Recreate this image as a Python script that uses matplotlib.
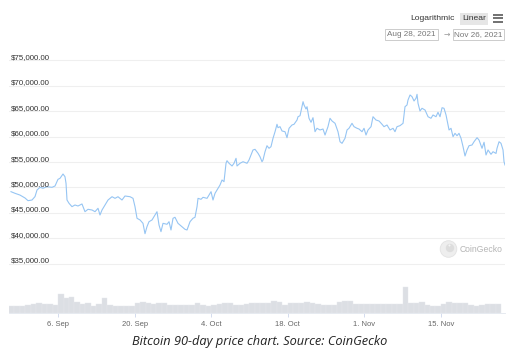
import numpy as np
import matplotlib
matplotlib.use("Agg")
from matplotlib import pyplot as plt
from matplotlib.patches import Rectangle, Circle

# price readings: days since Aug 28 2021, USD
price_days = [
    0.40, 1.13, 2.05, 2.96, 3.51, 4.24, 4.79, 5.16, 5.70, 6.25, 6.98, 7.90, 8.45, 8.99,
    9.36, 9.91, 10.27, 10.46, 10.64, 11.01, 11.55, 12.10, 12.65, 13.38, 13.93, 14.48,
    15.22, 15.76, 16.31, 16.67, 17.04, 17.59, 18.14, 18.87, 19.42, 19.96, 20.69, 21.24,
    22.16, 22.71, 23.07, 23.44, 23.99, 24.53, 24.90, 25.26, 25.63, 26.18, 26.73, 27.09,
    27.46, 27.82, 28.19, 28.92, 29.29, 29.65, 30.02, 30.38, 30.93, 31.66, 32.21, 32.58,
    33.13, 33.67, 34.04, 34.41, 34.59, 35.14, 35.50, 36.24, 36.60, 36.97, 37.33, 37.70,
    38.07, 38.61, 38.98, 39.34, 39.71, 39.89, 40.26, 40.81, 41.17, 41.54, 41.72, 42.27,
    42.82, 43.55, 43.91, 44.64, 45.01, 45.56, 45.92, 46.29, 46.47, 46.84, 47.20, 47.57,
    47.93, 48.30, 48.67, 49.03, 49.21, 49.58, 49.95, 50.49, 50.86, 51.23, 51.77, 52.14,
    52.69, 52.87, 53.24, 53.60, 53.79, 53.97, 54.33, 54.52, 54.88, 55.25, 55.61, 55.98,
    56.34, 56.89, 57.44, 57.81, 58.35, 58.72, 59.09, 59.64, 60.18, 60.55, 60.92, 61.46,
    61.83, 62.19, 62.74, 63.11, 63.66, 64.02, 64.57, 64.94, 65.30, 65.67, 66.22, 66.58,
    67.13, 67.68, 68.23, 68.59, 69.14, 69.69, 70.24, 70.60, 70.97, 71.52, 72.07, 72.43,
    72.80, 72.98, 73.35, 73.71, 74.08, 74.44, 74.63, 74.81, 75.17, 75.54, 76.09, 76.64,
    77.18, 77.55, 78.10, 78.46, 78.83, 79.20, 79.56, 79.93, 80.29, 80.48, 80.84, 81.21,
    81.57, 81.94, 82.30, 82.67, 83.04, 83.40, 83.77, 84.13, 84.68, 85.05, 85.60, 85.96,
    86.51, 86.88, 87.24, 87.61, 88.15, 88.52, 89.07, 89.25, 89.62, 89.98, 90.35, 90.53,
    90.71,
]
price_usd = [
    49170, 48850, 48500, 47930, 47400, 47530, 48200, 49500, 50030, 49840, 50150, 50030, 50290, 51600,
    51800, 52650, 52120, 50820, 47530, 46880, 46220, 46550, 46350, 46750, 45230, 45700,
    45560, 45230, 45900, 44580, 45560, 46550, 47530, 48180, 47860, 48180, 47530, 48320,
    48180, 47860, 46220, 43930, 43600, 42940, 40900, 42280, 43260, 43600, 44580, 45230,
    42610, 41300, 42940, 42750, 43260, 41630, 43930, 44130, 42940, 42280, 41760, 41630,
    43260, 43930, 44130, 46220, 47860, 47670, 48060, 47860, 48520, 49170, 47530, 48850,
    49500, 50480, 51470, 51140, 54760, 55270, 54760, 54230, 54760, 55740, 54230, 54760,
    55070, 54760, 55400, 57380, 57510, 56730, 56060, 55070, 55400, 57040, 58220, 57710,
    58030, 59680, 60980, 62440, 61770, 61970, 61120, 60980, 59800, 61650, 62300, 62440,
    63280, 63930, 64130, 65900, 66890, 66240, 65450, 65900, 63620, 62830, 63740, 60980,
    61650, 61320, 61510, 60330, 61970, 63620, 63090, 62630, 60980, 59010, 58690, 59680,
    61320, 61650, 62630, 61970, 61650, 61510, 60980, 61650, 60330, 61320, 61970, 63930,
    63280, 63090, 62440, 61970, 62300, 61320, 61650, 60980, 61970, 62170, 62630, 65900,
    66240, 67220, 68210, 67880, 67030, 67560, 68340, 66570, 65060, 65590, 65250, 63930,
    63620, 64270, 63930, 64800, 63930, 65700, 65590, 64270, 62300, 61320, 61650, 60000,
    60660, 60190, 60660, 59680, 58030, 56200, 57380, 58220, 58360, 59010, 59800, 59340,
    57710, 58900, 56400, 57380, 56530, 57040, 56700, 57710, 59010, 58690, 57380, 55070,
    54420,
]

# daily volume, billions USD (one bar per day from Aug 28)
volume_b = [
    33, 33, 35, 36, 41, 45, 44, 42, 39, 87, 68, 75, 51, 42, 45, 33, 42, 68, 37, 33,
    33, 32, 33, 45, 51, 46, 42, 45, 48, 37, 37, 36, 36, 37, 45, 39, 33, 37, 42, 48,
    45, 39, 37, 42, 46, 48, 46, 48, 55, 51, 39, 45, 46, 48, 51, 45, 41, 37, 37, 39,
    51, 54, 55, 44, 42, 42, 44, 42, 42, 41, 41, 42, 120, 46, 48, 51, 39, 35, 33, 42,
    53, 45, 46, 45, 36, 32, 39, 42, 42, 41,
]

grid_levels = [35000, 40000, 45000, 50000, 55000, 60000, 65000, 70000, 75000]
tick_days = [9, 23, 37, 51, 65, 79]
tick_labels = ["6. Sep", "20. Sep", "4. Oct", "18. Oct", "1. Nov", "15. Nov"]

W, H = 525, 354
fig = plt.figure(figsize=(W / 100, H / 100), dpi=100)
fig.patch.set_facecolor("white")

x0, x1 = 8.8, 505.0
base = 313.3


def rect(left, top, right, bottom):
    return [left / W, (H - bottom) / H, (right - left) / W, (bottom - top) / H]


# price panel
ax = fig.add_axes(rect(x0, 50, x1, base))
ax.set_xlim(0, 90.71)
ax.set_ylim(25223, 77067)
ax.axis("off")
for lv in grid_levels:
    ax.axhline(lv, color="#efefef", lw=0.8, zorder=0)
    ax.annotate(f"${lv:,.2f}", xy=(0.0045, lv), xycoords=("axes fraction", "data"),
                xytext=(0, 1.0), textcoords="offset points", va="baseline", ha="left",
                fontsize=5.7, family="Liberation Sans", color="#333333", zorder=3)
ax.plot(price_days, price_usd, color="#96c5f3", lw=0.8, zorder=2)

# volume panel
axv = fig.add_axes(rect(x0, 280, x1, base))
axv.bar(np.arange(len(volume_b)), volume_b, width=1.0, align="edge",
        color="#dcdfe4", edgecolor="#e6e8ec", linewidth=0.3)
axv.set_xlim(0, 90.71)
axv.set_ylim(0, 150)
axv.patch.set_alpha(0)
for s in ["top", "left", "right"]:
    axv.spines[s].set_visible(False)
axv.spines["bottom"].set_color("#e2e6ee")
axv.spines["bottom"].set_linewidth(0.6)
axv.set_yticks([])
axv.set_xticks(tick_days)
axv.set_xticklabels(tick_labels, fontsize=5.5, family="Liberation Sans", color="#666666")
axv.tick_params(axis="x", length=3, width=0.6, color="#ccd6eb", pad=2.5)

# overlay in pixel coords for buttons, watermark and caption
ov = fig.add_axes([0, 0, 1, 1])
ov.set_xlim(0, W)
ov.set_ylim(H, 0)
ov.axis("off")
ov.patch.set_alpha(0)

ov.text(454.5, 18.5, "Logarithmic", ha="right", va="center", fontsize=6.1,
        family="Liberation Sans", color="#333333")
ov.add_patch(Rectangle((460, 12.5), 27.5, 12, facecolor="#e6e6e6", edgecolor="none"))
ov.text(473.7, 18.5, "Linear", ha="center", va="center", fontsize=6.1,
        family="Liberation Sans", color="#333333")
for yy in (14.5, 18.3, 22.1):
    ov.plot([493, 503], [yy, yy], color="#666666", lw=1.3, solid_capstyle="butt")

ov.add_patch(Rectangle((385, 28.5), 52.5, 11.5, facecolor="white", edgecolor="#cccccc", lw=0.7))
ov.text(411.2, 34.5, "Aug 28, 2021", ha="center", va="center", fontsize=5.9,
        family="Liberation Sans", color="#777777")
ov.text(446.5, 34.5, "\u2192", ha="center", va="center", fontsize=5.5,
        family="DejaVu Sans", color="#999999")
ov.add_patch(Rectangle((453, 28.5), 50.5, 11.5, facecolor="white", edgecolor="#cccccc", lw=0.7))
ov.text(478.2, 34.5, "Nov 26, 2021", ha="center", va="center", fontsize=5.9,
        family="Liberation Sans", color="#777777")

ov.add_patch(Circle((448.5, 249), 8.3, facecolor="#eeeeee", edgecolor="#e2e2e2", lw=0.6))
ov.add_patch(Circle((450, 248), 4.2, facecolor="#dddddd", edgecolor="none"))
ov.add_patch(Circle((449.5, 245.5), 1.0, facecolor="#f5f5f5", edgecolor="none"))
ov.text(460, 249, "CoinGecko", ha="left", va="center", fontsize=6.2,
        family="Liberation Sans", color="#b5b5b5")

ov.text(260, 341.5, "Bitcoin 90-day price chart. Source: CoinGecko", ha="center", va="center",
        fontsize=9.2, family="Open Sans", style="italic", color="#222222")

fig.savefig("out.png", dpi=100, facecolor="white")
